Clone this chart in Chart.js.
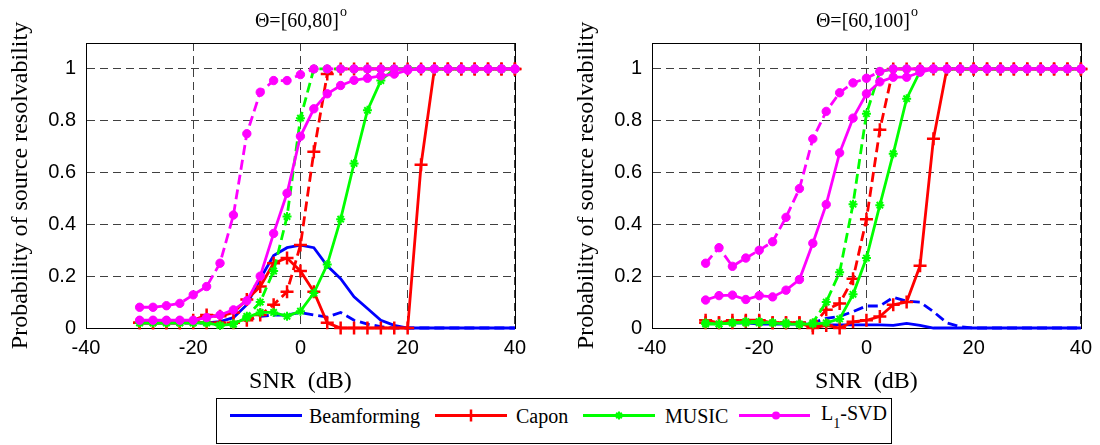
<!DOCTYPE html>
<html>
<head>
<meta charset="utf-8">
<script src="https://cdn.jsdelivr.net/npm/chart.js@4.4.1/dist/chart.umd.min.js"></script>
<style>
  body { margin: 0; background: #fff; width: 1100px; height: 445px; overflow: hidden; position: relative; }
  .panel { position: absolute; top: 0; width: 534px; height: 400px; }
  #legend { position: absolute; left: 216px; top: 398px; }
  #legend text { font-family: "Liberation Serif", "Times New Roman", Times, serif; font-size: 20px; fill: #000; }
</style>
</head>
<body>
<div class="panel" style="left:0"><canvas id="left" width="534" height="400"></canvas></div>
<div class="panel" style="left:566px"><canvas id="right" width="534" height="400"></canvas></div>

<svg id="legend" width="676" height="46">
  <rect x="0.5" y="0.5" width="675" height="45" fill="#fff" stroke="#000" stroke-width="1"/>
  <line x1="14" y1="17.5" x2="86" y2="17.5" stroke="#0000ff" stroke-width="2.8"/>
  <text x="93" y="25">Beamforming</text>
  <line x1="219" y1="17.5" x2="291" y2="17.5" stroke="#ff0000" stroke-width="2.8"/>
  <path d="M249 17.5h12M255 11.5v12" stroke="#ff0000" stroke-width="2.5" fill="none"/>
  <text x="300" y="25">Capon</text>
  <line x1="367" y1="17.5" x2="439" y2="17.5" stroke="#00ff00" stroke-width="2.8"/>
  <path d="M399 17.5h8M403 13.5v8M400.2 14.7l5.6 5.6M405.8 14.7l-5.6 5.6" stroke="#00ff00" stroke-width="2" fill="none"/>
  <text x="449" y="25">MUSIC</text>
  <line x1="523" y1="17.5" x2="594" y2="17.5" stroke="#ff00ff" stroke-width="2.8"/>
  <circle cx="560" cy="17.5" r="4" fill="#ff00ff"/>
  <text x="605" y="22">L<tspan font-size="14" dy="8">1</tspan><tspan dy="-8">-SVD</tspan></text>
</svg>

<script>
// SNR grid (dB)
const snr = [-30, -27.5, -25, -22.5, -20, -17.5, -15, -12.5, -10, -7.5, -5, -2.5, 0, 2.5, 5,
             7.5, 10, 12.5, 15, 17.5, 20, 22.5, 25, 27.5, 30, 32.5, 35, 37.5, 40];

const xTicks = [-40, -20, 0, 20, 40];
const yTicks = [0, 0.2, 0.4, 0.6, 0.8, 1];

// panel 1: Theta = [60,80]
const beamA    = [0.02, 0.02, 0.02, 0.02, 0.02, 0.02, 0.025, 0.04, 0.09, 0.19, 0.28, 0.31, 0.32, 0.31, 0.24, 0.19, 0.12, 0.075, 0.03, 0.01, 0, 0, 0, 0, 0, 0, 0, 0, 0];
const beamDashA = [0.02, 0.02, 0.02, 0.02, 0.02, 0.02, 0.02, 0.02, 0.03, 0.045, 0.05, 0.05, 0.06, 0.05, 0.042, 0.06, 0.03, 0.015, 0.005, 0, 0, 0, 0, 0, 0, 0, 0, 0, 0];
const caponA   = [0.02, 0.02, 0.02, 0.02, 0.03, 0.05, 0.045, 0.06, 0.11, 0.16, 0.25, 0.27, 0.22, 0.14, 0.02, 0, 0, 0, 0, 0, 0, 0.63, 1, 1, 1, 1, 1, 1, 1];
const caponDashA = [0.02, 0.02, 0.02, 0.02, 0.02, 0.02, 0.02, 0.02, 0.03, 0.05, 0.09, 0.14, 0.32, 0.68, 0.98, 1, 1, 1, 1, 1, 1, 1, 1, 1, 1, 1, 1, 1, 1];
const musicA   = [0.02, 0.02, 0.02, 0.02, 0.02, 0.02, 0.01, 0.015, 0.04, 0.06, 0.06, 0.045, 0.065, 0.135, 0.245, 0.42, 0.635, 0.84, 0.955, 1, 1, 1, 1, 1, 1, 1, 1, 1, 1];
const musicDashA = [0.02, 0.02, 0.02, 0.02, 0.02, 0.02, 0.01, 0.015, 0.045, 0.1, 0.22, 0.43, 0.81, 1, 1, 1, 1, 1, 1, 1, 1, 1, 1, 1, 1, 1, 1, 1, 1];
const l1svdA   = [0.03, 0.03, 0.03, 0.03, 0.03, 0.04, 0.05, 0.07, 0.105, 0.2, 0.365, 0.52, 0.74, 0.846, 0.904, 0.936, 0.956, 0.964, 0.973, 0.98, 0.995, 1, 1, 1, 1, 1, 1, 1, 1];
const l1svdDashA = [0.08, 0.08, 0.086, 0.095, 0.128, 0.16, 0.25, 0.436, 0.75, 0.91, 0.955, 0.955, 0.978, 1, 1, 1, 1, 1, 1, 1, 1, 1, 1, 1, 1, 1, 1, 1, 1];

// panel 2: Theta = [60,100]
const beamB    = [0.02, 0.02, 0.02, 0.02, 0.015, 0.015, 0.015, 0.015, 0.015, 0.012, 0.012, 0.012, 0.012, 0.012, 0.01, 0.018, 0.01, 0, 0, 0, 0, 0, 0, 0, 0, 0, 0, 0, 0];
const beamDashB = [0.02, 0.02, 0.02, 0.02, 0.02, 0.02, 0.02, 0.02, 0.02, 0.037, 0.045, 0.063, 0.085, 0.085, 0.118, 0.104, 0.1, 0.063, 0.02, 0.005, 0, 0, 0, 0, 0, 0, 0, 0, 0];
const caponB   = [0.03, 0.02, 0.02, 0.03, 0.03, 0.02, 0.02, 0.02, 0, 0.01, 0, 0.024, 0.03, 0.044, 0.09, 0.1, 0.24, 0.73, 1, 1, 1, 1, 1, 1, 1, 1, 1, 1, 1];
const caponDashB = [0.02, 0.02, 0.03, 0.025, 0.025, 0.02, 0.02, 0.02, 0.01, 0.07, 0.095, 0.19, 0.42, 0.765, 1, 1, 1, 1, 1, 1, 1, 1, 1, 1, 1, 1, 1, 1, 1];
const musicB   = [0.015, 0.015, 0.02, 0.02, 0.02, 0.02, 0.015, 0.015, 0.015, 0.02, 0.035, 0.13, 0.27, 0.474, 0.673, 0.885, 0.99, 1, 1, 1, 1, 1, 1, 1, 1, 1, 1, 1, 1];
const musicDashB = [0.02, 0.015, 0.02, 0.025, 0.025, 0.02, 0.02, 0.015, 0.02, 0.1, 0.215, 0.478, 0.827, 0.99, 1, 1, 1, 1, 1, 1, 1, 1, 1, 1, 1, 1, 1, 1, 1];
const l1svdB   = [0.108, 0.125, 0.127, 0.11, 0.125, 0.12, 0.146, 0.187, 0.327, 0.477, 0.676, 0.81, 0.904, 0.95, 0.968, 0.968, 0.987, 1, 1, 1, 1, 1, 1, 1, 1, 1, 1, 1, 1];
const l1svdDashB = [0.25, 0.31, 0.238, 0.27, 0.30, 0.333, 0.427, 0.538, 0.73, 0.836, 0.908, 0.946, 0.964, 0.99, 1, 1, 1, 1, 1, 1, 1, 1, 1, 1, 1, 1, 1, 1, 1];

const methods = ["Beamforming", "Capon", "MUSIC", "L1-SVD"];
const colors = ["#0000ff", "#ff0000", "#00ff00", "#ff00ff"];
const markers = [
    { pointRadius: 0 },
    { pointStyle: "cross", pointRadius: 6.5, pointBorderWidth: 2.5 },
    { pointStyle: "star", pointRadius: 4.5, pointBorderWidth: 2 },
    { pointStyle: "circle", pointRadius: 4.2, pointBorderWidth: 1 }
];

const serif = '"Liberation Serif", "Times New Roman", Times, serif';
const sans = '"Liberation Sans", Arial, Helvetica, sans-serif';

function makeSets(solids, dashes) {
    const sets = [];
    methods.forEach((name, m) => {
        [solids[m], dashes[m]].forEach((vals, k) => {
            sets.push(Object.assign({
                label: name,
                data: snr.map((x, i) => ({ x: x, y: vals[i] })),
                borderColor: colors[m],
                backgroundColor: colors[m],
                pointBackgroundColor: colors[m],
                pointBorderColor: colors[m],
                borderWidth: 2.8,
                borderDash: k === 1 ? [10, 5] : [],
                tension: 0,
                clip: false
            }, markers[m]));
        });
    });
    // later methods sit on top, like the original plot
    sets.forEach((s, i) => { s.order = -i; });
    return sets;
}

const panelDecor = {
    id: "panelDecor",
    beforeDatasetsDraw(chart) {
        const a = chart.chartArea;
        const ctx = chart.ctx;
        ctx.save();
        ctx.strokeStyle = "#000";
        ctx.lineWidth = 1;
        ctx.strokeRect(Math.round(a.left) + 0.5, Math.round(a.top) + 0.5,
                       Math.round(a.right - a.left), Math.round(a.bottom - a.top));
        ctx.restore();
    },
    afterDraw(chart, args, opts) {
        const a = chart.chartArea;
        const ctx = chart.ctx;
        ctx.save();
        ctx.fillStyle = "#000";
        ctx.textBaseline = "alphabetic";
        ctx.textAlign = "left";
        ctx.font = "20px " + serif;
        const w1 = ctx.measureText(opts.text).width;
        ctx.font = "14px " + serif;
        const w2 = ctx.measureText("o").width;
        const x0 = (a.left + a.right) / 2 - (w1 + w2) / 2;
        ctx.font = "20px " + serif;
        ctx.fillText(opts.text, x0, 27);
        ctx.font = "14px " + serif;
        ctx.fillText("o", x0 + w1 + 1, 16);
        ctx.restore();
    }
};

function axisCommon() {
    return {
        grid: { color: "rgba(0,0,0,0.75)", lineWidth: 1, drawTicks: false },
        border: { display: true, color: "#000", width: 1, dash: [8, 5] }
    };
}

function buildChart(id, title, solids, dashes) {
    new Chart(document.getElementById(id), {
        type: "line",
        data: { datasets: makeSets(solids, dashes) },
        plugins: [panelDecor],
        options: {
            responsive: false,
            animation: false,
            devicePixelRatio: 1,
            events: [],
            layout: { padding: { left: 0, top: 43, right: 18, bottom: 0 } },
            plugins: {
                legend: { display: false },
                tooltip: { enabled: false },
                panelDecor: { text: title }
            },
            scales: {
                x: Object.assign(axisCommon(), {
                    type: "linear",
                    min: xTicks[0],
                    max: xTicks[xTicks.length - 1],
                    afterBuildTicks: (s) => { s.ticks = xTicks.map(v => ({ value: v })); },
                    ticks: {
                        padding: 8, color: "#000", font: { family: sans, size: 20 },
                        callback: (v) => String(v)
                    },
                    title: {
                        display: true, text: "SNR  (dB)", color: "#000",
                        font: { family: serif, size: 24 },
                        padding: { top: 0, bottom: 4 }
                    },
                    afterFit: (s) => { s.height = 72; }
                }),
                y: Object.assign(axisCommon(), {
                    min: 0,
                    max: 1.1,
                    afterBuildTicks: (s) => { s.ticks = yTicks.map(v => ({ value: v })); },
                    ticks: {
                        padding: 10, color: "#000", font: { family: sans, size: 20 },
                        callback: (v) => String(+v.toFixed(1))
                    },
                    title: {
                        display: true, text: "Probability of source resolvability", color: "#000",
                        font: { family: serif, size: 24 },
                        padding: { top: 6, bottom: 0 }
                    },
                    afterFit: (s) => { s.width = 86; }
                })
            }
        }
    });
}

buildChart("left", "\u0398=[60,80]",
    [beamA, caponA, musicA, l1svdA],
    [beamDashA, caponDashA, musicDashA, l1svdDashA]);
buildChart("right", "\u0398=[60,100]",
    [beamB, caponB, musicB, l1svdB],
    [beamDashB, caponDashB, musicDashB, l1svdDashB]);
</script>
</body>
</html>
